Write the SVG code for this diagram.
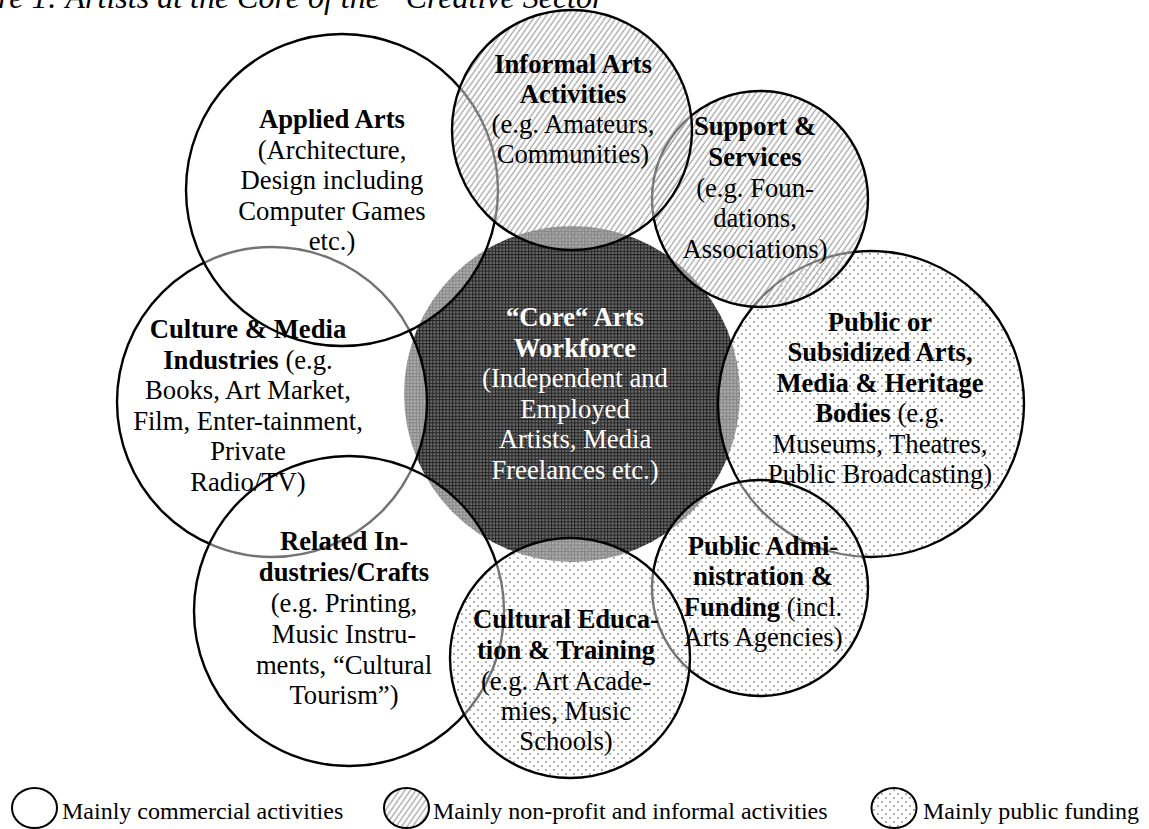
<svg xmlns="http://www.w3.org/2000/svg" width="1149" height="829" viewBox="0 0 1149 829">
<style>
.veil{fill:#fff;fill-opacity:0.45}
.hatch{fill:url(#hatch)}
.dots{fill:url(#dots)}
.ring{fill:none;stroke:#000;stroke-width:2.4}
text{font-family:"Liberation Serif","Times New Roman",serif;font-size:26.67px;text-anchor:middle;fill:#000}
.b{font-weight:bold}
.w{fill:#fff}
.leg{font-size:24px;text-anchor:start}
.title{font-size:32px;font-style:italic;text-anchor:start}
.key{stroke:#000;stroke-width:2}
</style>
<defs>
<pattern id="hatch" patternUnits="userSpaceOnUse" width="4.5" height="4.5" patternTransform="rotate(35)">
<line x1="2" y1="0" x2="2" y2="4.5" stroke="#8c8c8c" stroke-width="1"/>
</pattern>
<pattern id="dots" patternUnits="userSpaceOnUse" width="8" height="8">
<circle cx="2" cy="2" r="0.9" fill="#8a8a8a"/>
<circle cx="6" cy="6" r="0.9" fill="#8a8a8a"/>
</pattern>
<pattern id="grid" patternUnits="userSpaceOnUse" width="3.3" height="3.3">
<rect width="3.3" height="3.3" fill="#6a6a6a"/>
<path d="M0 0.5H3.3M0.5 0V3.3" stroke="#222" stroke-width="1"/>
</pattern>
</defs>
<rect width="1149" height="829" fill="#fff"/>
<text class="title" x="-2" y="8">re 1: Artists at the Core of the “Creative Sector”</text>

<g id="shapes">
<g id="node-core"><circle cx="572" cy="394" r="168" fill="url(#grid)"/></g>
<g id="node-culture"><circle class="veil" cx="272" cy="402" r="155"/><circle class="ring" cx="272" cy="402" r="155"/></g>
<g id="node-public-bodies"><circle class="veil" cx="871" cy="404" r="153"/><circle class="dots" cx="871" cy="404" r="153"/><circle class="ring" cx="871" cy="404" r="153"/></g>
<g id="node-applied"><circle class="veil" cx="342" cy="190" r="156"/><circle class="ring" cx="342" cy="190" r="156"/></g>
<g id="node-related"><circle class="veil" cx="349" cy="611" r="155"/><circle class="ring" cx="349" cy="611" r="155"/></g>
<g id="node-support"><circle class="veil" cx="760" cy="199" r="108"/><circle class="hatch" cx="760" cy="199" r="108"/><circle class="ring" cx="760" cy="199" r="108"/></g>
<g id="node-admin"><circle class="veil" cx="760" cy="588" r="108"/><circle class="dots" cx="760" cy="588" r="108"/><circle class="ring" cx="760" cy="588" r="108"/></g>
<g id="node-informal"><circle class="veil" cx="572" cy="130" r="120"/><circle class="hatch" cx="572" cy="130" r="120"/><circle class="ring" cx="572" cy="130" r="120"/></g>
<g id="node-education"><circle class="veil" cx="570" cy="658" r="120"/><circle class="dots" cx="570" cy="658" r="120"/><circle class="ring" cx="570" cy="658" r="120"/></g>
</g>

<g id="connectors"></g>

<g id="labels">
<g id="label-core">
<text class="b w" x="575" y="326">“Core“ Arts</text>
<text class="b w" x="575" y="356.5">Workforce</text>
<text class="w" x="575" y="387">(Independent and</text>
<text class="w" x="575" y="417.5">Employed</text>
<text class="w" x="575" y="448">Artists, Media</text>
<text class="w" x="575" y="478.5">Freelances etc.)</text>
</g>
<g id="label-applied">
<text class="b" x="332" y="128">Applied Arts</text>
<text x="332" y="158.5">(Architecture,</text>
<text x="332" y="189">Design including</text>
<text x="332" y="219.5">Computer Games</text>
<text x="332" y="250">etc.)</text>
</g>
<g id="label-informal">
<text class="b" x="573" y="73">Informal Arts</text>
<text class="b" x="573" y="103">Activities</text>
<text x="573" y="133">(e.g. Amateurs,</text>
<text x="573" y="163">Communities)</text>
</g>
<g id="label-support">
<text class="b" x="755" y="135">Support &amp;</text>
<text class="b" x="755" y="166">Services</text>
<text x="755" y="196.5">(e.g. Foun-</text>
<text x="755" y="227">dations,</text>
<text x="755" y="257.5">Associations)</text>
</g>
<g id="label-public-bodies">
<text class="b" x="880" y="331">Public or</text>
<text class="b" x="880" y="361">Subsidized Arts,</text>
<text class="b" x="880" y="391.5">Media &amp; Heritage</text>
<text x="880" y="422"><tspan class="b">Bodies</tspan> (e.g.</text>
<text x="880" y="452.5">Museums, Theatres,</text>
<text x="880" y="483">Public Broadcasting)</text>
</g>
<g id="label-culture">
<text class="b" x="248" y="338">Culture &amp; Media</text>
<text x="248" y="368.5"><tspan class="b">Industries</tspan> (e.g.</text>
<text x="248" y="399">Books, Art Market,</text>
<text x="248" y="429.5">Film, Enter-tainment,</text>
<text x="248" y="460">Private</text>
<text x="248" y="490.5">Radio/TV)</text>
</g>
<g id="label-related">
<text class="b" x="344" y="550">Related In-</text>
<text class="b" x="344" y="581">dustries/Crafts</text>
<text x="344" y="612">(e.g. Printing,</text>
<text x="344" y="643">Music Instru-</text>
<text x="344" y="673.5">ments, “Cultural</text>
<text x="344" y="704">Tourism”)</text>
</g>
<g id="label-education">
<text class="b" x="566" y="628">Cultural Educa-</text>
<text class="b" x="566" y="659">tion &amp; Training</text>
<text x="566" y="690">(e.g. Art Acade-</text>
<text x="566" y="720">mies, Music</text>
<text x="566" y="750">Schools)</text>
</g>
<g id="label-admin">
<text class="b" x="763" y="555">Public Admi-</text>
<text class="b" x="763" y="585">nistration &amp;</text>
<text x="763" y="615.5"><tspan class="b">Funding</tspan> (incl.</text>
<text x="763" y="646">Arts Agencies)</text>
</g>
</g>

<g id="legend">
<ellipse class="key" cx="34.5" cy="808" rx="22.5" ry="20" fill="#fff"/>
<text class="leg" x="62" y="819">Mainly commercial activities</text>
<ellipse class="key" cx="406.5" cy="808" rx="22.5" ry="20" fill="url(#hatch)"/>
<text class="leg" x="433" y="819">Mainly non-profit and informal activities</text>
<ellipse class="key" cx="894" cy="808" rx="22.5" ry="20" fill="url(#dots)"/>
<text class="leg" x="923" y="819">Mainly public funding</text>
</g>
</svg>
